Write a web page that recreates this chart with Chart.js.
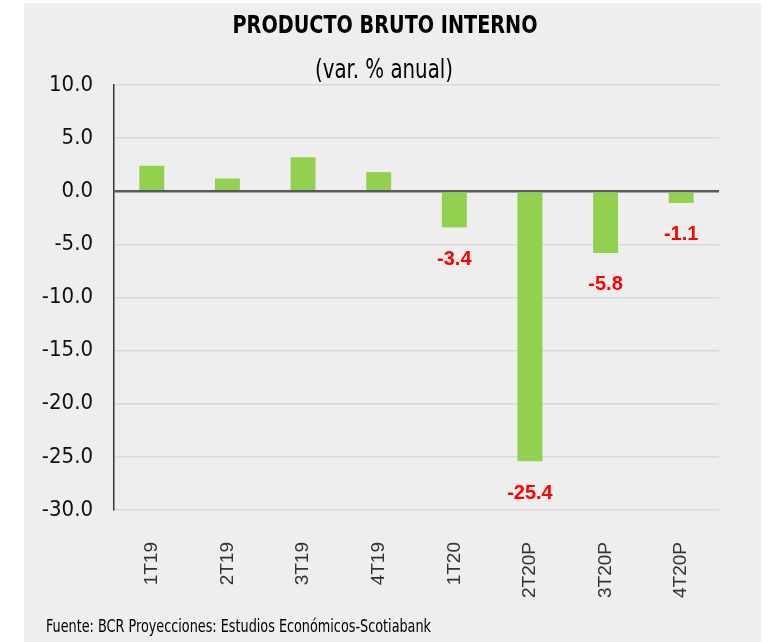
<!DOCTYPE html>
<html>
<head>
<meta charset="utf-8">
<script src="https://cdn.jsdelivr.net/npm/chart.js@4/dist/chart.umd.min.js"></script>
<style>
  body { margin: 0; background: #ffffff; }
  #wrap { width: 769px; height: 642px; }
</style>
</head>
<body>
<div id="wrap"><canvas id="pbi"></canvas></div>
<script>
const quarters = ["1T19", "2T19", "3T19", "4T19", "1T20", "2T20P", "3T20P", "4T20P"];
const pbiVar = [2.4, 1.2, 3.2, 1.8, -3.4, -25.4, -5.8, -1.1];

const titleText = "PRODUCTO BRUTO INTERNO";
const subtitleText = "(var. % anual)";
const sourceText = "Fuente: BCR Proyecciones: Estudios Económicos-Scotiabank";

const narrow = "'Liberation Sans Narrow', 'DejaVu Sans Condensed', 'Liberation Sans', sans-serif";

// gray panel behind the whole chart + titles + source note
const panel = {
  id: "panel",
  beforeDraw(chart) {
    const ctx = chart.ctx;
    ctx.save();
    ctx.fillStyle = "#eeeeee";
    ctx.fillRect(24, 3, 737, 639);
    ctx.restore();
  },
  afterDraw(chart) {
    const ctx = chart.ctx;
    ctx.save();
    ctx.fillStyle = "#000000";
    ctx.textAlign = "center";
    ctx.textBaseline = "alphabetic";
    ctx.font = "bold 25px " + narrow;
    ctx.fillText(titleText, 385, 33, 305);
    ctx.font = "26px " + narrow;
    ctx.fillText(subtitleText, 384, 78, 138);
    ctx.textAlign = "left";
    ctx.font = "17px " + narrow;
    ctx.fillText(sourceText, 46, 632, 385);
    ctx.restore();
  }
};

// red value labels under the negative bars
const negLabels = {
  id: "negLabels",
  afterDatasetsDraw(chart) {
    const ctx = chart.ctx;
    const meta = chart.getDatasetMeta(0);
    ctx.save();
    ctx.fillStyle = "#ff0000";
    ctx.font = "bold 20px 'Liberation Sans', Arial, sans-serif";
    ctx.textAlign = "center";
    ctx.textBaseline = "middle";
    meta.data.forEach((bar, i) => {
      const v = pbiVar[i];
      if (v < 0) {
        ctx.fillText(v.toFixed(1), bar.x, bar.y + 32);
      }
    });
    ctx.restore();
  }
};

new Chart(document.getElementById("pbi"), {
  type: "bar",
  data: {
    labels: quarters,
    datasets: [
      {
        label: "PBI (var. % anual)",
        data: pbiVar,
        backgroundColor: "#92d050",
        barPercentage: 0.33,
        categoryPercentage: 1
      }
    ]
  },
  options: {
    responsive: true,
    maintainAspectRatio: false,
    animation: false,
    layout: {
      padding: { top: 85, right: 50, bottom: 0, left: 0 }
    },
    plugins: {
      legend: { display: false },
      tooltip: { enabled: false }
    },
    scales: {
      x: {
        grid: { display: false },
        border: { display: false },
        ticks: {
          minRotation: 90,
          maxRotation: 90,
          padding: 24,
          color: "#333333",
          font: { family: "'Liberation Sans', Arial, sans-serif", size: 19 }
        },
        afterFit(scale) {
          scale.height = 132;
        }
      },
      y: {
        min: -30,
        max: 10,
        ticks: {
          stepSize: 5,
          padding: 21,
          color: "#111111",
          font: { family: narrow, size: 22 },
          callback: (v) => Number(v).toFixed(1)
        },
        grid: {
          drawTicks: false,
          color: (c) => (c.tick && c.tick.value === 0 ? "#5a5a5a" : "#d9d9d9"),
          lineWidth: (c) => (c.tick && c.tick.value === 0 ? 2.5 : 1.5)
        },
        border: {
          display: true,
          color: "#333333",
          width: 1.5
        },
        afterFit(scale) {
          scale.width = 114;
        }
      }
    }
  },
  plugins: [panel, negLabels]
});
</script>
</body>
</html>
